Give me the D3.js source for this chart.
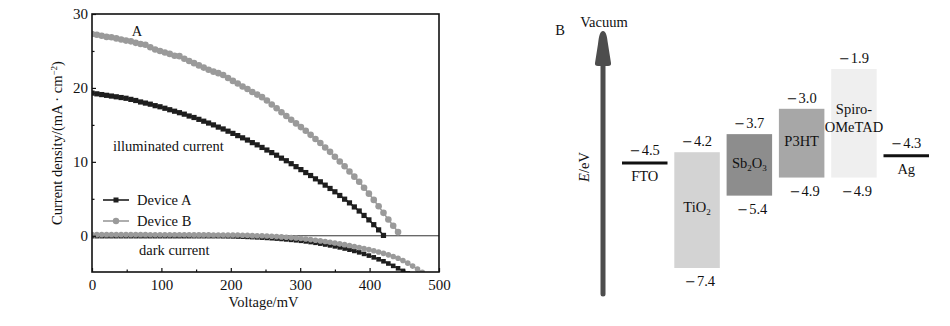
<!DOCTYPE html>
<html>
<head>
<meta charset="utf-8">
<script src="https://cdn.jsdelivr.net/npm/d3@7/dist/d3.min.js"></script>
<style>
  html, body { margin: 0; padding: 0; background: #fff; }
  svg { display: block; font-family: "Liberation Serif", "Times New Roman", serif; }
</style>
</head>
<body>
<svg id="chart" width="950" height="326"></svg>
<script>
// ---- Panel A: J–V curves ----
// Voltage sweep points (mV)
const voltage = [0,7,14,21,28,35,42,49,56,63,70,77,84,91,98,105,112,119,126,133,140,147,154,161,168,175,182,189,196,203,210,217,224,231,238,245,252,259,266,273,280,287,294,301,308,315,322,329,336,343,350,357,364,371,378,385,392,399,406,413,420,427,434,441,448,455,462,469,476];

// Current density (mA·cm⁻²) under illumination
const deviceALight = [19.3,19.2,19.1,19.0,18.9,18.8,18.7,18.6,18.45,18.3,18.1,17.95,17.8,17.6,17.45,17.25,17.05,16.85,16.65,16.45,16.2,16.0,15.75,15.5,15.25,15.0,14.7,14.45,14.15,13.85,13.55,13.25,12.95,12.6,12.3,11.95,11.6,11.25,10.9,10.5,10.15,9.75,9.35,8.95,8.55,8.15,7.7,7.3,6.85,6.4,5.95,5.45,4.95,4.45,3.9,3.35,2.75,2.15,1.5,0.8,0.05];
const deviceBLight = [27.3,27.2,27.05,26.9,26.85,26.7,26.55,26.4,26.3,26.1,25.95,25.85,25.5,25.2,25.0,24.8,24.6,24.35,24.3,23.95,23.65,23.35,23.05,22.75,22.45,22.2,22.0,21.75,21.35,20.95,20.6,20.2,19.85,19.45,19.1,18.75,18.3,17.75,17.25,16.7,16.2,15.7,15.2,14.7,14.2,13.65,13.1,12.55,11.95,11.35,10.7,10.05,9.4,8.7,8.0,7.3,6.5,5.7,4.85,4.0,3.1,2.2,1.35,0.5];

// Current density (mA·cm⁻²) in the dark
const deviceADark = [-0.05,-0.05,-0.05,-0.05,-0.05,-0.05,-0.05,-0.05,-0.05,-0.05,-0.05,-0.05,-0.05,-0.05,-0.05,-0.05,-0.05,-0.05,-0.05,-0.05,-0.05,-0.05,-0.05,-0.05,-0.05,-0.05,-0.05,-0.06,-0.07,-0.08,-0.1,-0.12,-0.15,-0.18,-0.21,-0.25,-0.29,-0.33,-0.38,-0.43,-0.49,-0.55,-0.61,-0.68,-0.76,-0.85,-0.95,-1.06,-1.18,-1.3,-1.43,-1.57,-1.72,-1.88,-2.05,-2.24,-2.45,-2.68,-2.92,-3.18,-3.45,-3.75,-4.07,-4.4,-4.75,-5.1];
const deviceBDark = [0.15,0.15,0.15,0.15,0.15,0.15,0.15,0.15,0.15,0.15,0.15,0.15,0.14,0.14,0.14,0.14,0.14,0.13,0.13,0.13,0.13,0.12,0.12,0.12,0.12,0.11,0.11,0.11,0.1,0.1,0.1,0.08,0.05,0.02,0.01,0.0,-0.03,-0.07,-0.11,-0.15,-0.2,-0.25,-0.31,-0.37,-0.44,-0.52,-0.6,-0.69,-0.78,-0.88,-0.98,-1.09,-1.2,-1.32,-1.45,-1.58,-1.72,-1.87,-2.03,-2.2,-2.38,-2.58,-2.8,-3.05,-3.35,-3.7,-4.1,-4.5,-4.95];

const xTicks = [0, 100, 200, 300, 400, 500];
const xMinorTicks = [50, 150, 250, 350, 450];
const yTicks = [0, 10, 20, 30];
const yMinorTicks = [5, 15, 25];

// ---- Panel B: energy levels (eV) ----
const materials = ["FTO", "TiO2", "Sb2O3", "P3HT", "Spiro-OMeTAD", "Ag"];
const upperLevel = [-4.5, -4.2, -3.7, -3.0, -1.9, -4.3];
const lowerLevel = [null, -7.4, -5.4, -4.9, -4.9, null];
const bandFill = [null, "#d3d3d3", "#8d8d8d", "#a7a7a7", "#efefef", null];

const svg = d3.select("#chart");
const FONT = 14.5;

// ================= Panel A =================
const plot = { left: 92, right: 439, top: 14, bottom: 272 };
const x = d3.scaleLinear().domain([0, 500]).range([plot.left, plot.right]);
const y = d3.scaleLinear().domain([-4.9, 30]).range([plot.bottom, plot.top]);

svg.append("defs").append("clipPath").attr("id", "plotClip")
  .append("rect")
  .attr("x", plot.left).attr("y", plot.top)
  .attr("width", plot.right - plot.left).attr("height", plot.bottom - plot.top);

// zero line
svg.append("line")
  .attr("x1", x(0)).attr("x2", x(500))
  .attr("y1", y(0)).attr("y2", y(0))
  .attr("stroke", "#333").attr("stroke-width", 1);

const gA = svg.append("g").attr("clip-path", "url(#plotClip)");

const line = d3.line().x(d => x(d[0])).y(d => y(d[1]));
const pairs = vals => vals.map((v, i) => [voltage[i], v]);

const series = [
  { vals: deviceADark,  color: "#1e1e1e", marker: "square", size: 4.6 },
  { vals: deviceBDark,  color: "#9a9a9a", marker: "circle", size: 2.8 },
  { vals: deviceALight, color: "#1e1e1e", marker: "square", size: 5.2 },
  { vals: deviceBLight, color: "#9a9a9a", marker: "circle", size: 3.3 }
];

series.forEach(s => {
  const pts = pairs(s.vals);
  gA.append("path").datum(pts)
    .attr("fill", "none").attr("stroke", s.color).attr("stroke-width", 1.5)
    .attr("d", line);
  if (s.marker === "square") {
    gA.append("g").selectAll("rect").data(pts).join("rect")
      .attr("x", d => x(d[0]) - s.size / 2).attr("y", d => y(d[1]) - s.size / 2)
      .attr("width", s.size).attr("height", s.size)
      .attr("fill", s.color);
  } else {
    gA.append("g").selectAll("circle").data(pts).join("circle")
      .attr("cx", d => x(d[0])).attr("cy", d => y(d[1]))
      .attr("r", s.size).attr("fill", s.color);
  }
});

// axes (ticks pointing inward)
const xAxis = svg.append("g").attr("transform", `translate(0,${plot.bottom})`)
  .call(d3.axisBottom(x).tickValues(xTicks).tickSizeInner(-4).tickSizeOuter(0).tickPadding(5));
svg.append("g").attr("transform", `translate(0,${plot.bottom})`)
  .call(d3.axisBottom(x).tickValues(xMinorTicks).tickSizeInner(-2.5).tickSizeOuter(0).tickFormat(""));
const yAxis = svg.append("g").attr("transform", `translate(${plot.left},0)`)
  .call(d3.axisLeft(y).tickValues(yTicks).tickSizeInner(-4).tickSizeOuter(0).tickPadding(4));
svg.append("g").attr("transform", `translate(${plot.left},0)`)
  .call(d3.axisLeft(y).tickValues(yMinorTicks).tickSizeInner(-2.5).tickSizeOuter(0).tickFormat(""));

svg.selectAll(".domain").remove();
svg.selectAll(".tick line").attr("stroke", "#111").attr("stroke-width", 1.2);
svg.selectAll(".tick text")
  .attr("font-family", "Liberation Serif").attr("font-size", 15).attr("fill", "#111");
xAxis.selectAll(".tick text").attr("dy", "0.85em");

// frame
svg.append("rect")
  .attr("x", plot.left).attr("y", plot.top)
  .attr("width", plot.right - plot.left).attr("height", plot.bottom - plot.top)
  .attr("fill", "none").attr("stroke", "#111").attr("stroke-width", 1.6);

// axis titles
svg.append("text")
  .attr("x", (plot.left + plot.right) / 2 - 2).attr("y", 307)
  .attr("text-anchor", "middle").attr("font-size", FONT).attr("fill", "#111")
  .text("Voltage/mV");

const yTitle = svg.append("text")
  .attr("transform", `translate(62,${(plot.top + plot.bottom) / 2}) rotate(-90)`)
  .attr("text-anchor", "middle").attr("font-size", FONT).attr("fill", "#111");
yTitle.append("tspan").text("Current density/(mA · cm");
yTitle.append("tspan").attr("font-size", 9).attr("dy", -5).text("−2");
yTitle.append("tspan").attr("dy", 5).text(")");

// annotations
svg.append("text").attr("x", 137).attr("y", 36).attr("text-anchor", "middle")
  .attr("font-size", FONT).attr("fill", "#111").text("A");
svg.append("text").attr("x", 113).attr("y", 151)
  .attr("font-size", FONT).attr("fill", "#111").text("illuminated current");
svg.append("text").attr("x", 139).attr("y", 255)
  .attr("font-size", FONT).attr("fill", "#111").text("dark current");

// legend
const legend = [
  { label: "Device A", color: "#1e1e1e", marker: "square", yPos: 200 },
  { label: "Device B", color: "#9a9a9a", marker: "circle", yPos: 221 }
];
legend.forEach(l => {
  svg.append("line").attr("x1", 103).attr("x2", 129).attr("y1", l.yPos).attr("y2", l.yPos)
    .attr("stroke", l.color).attr("stroke-width", 1.6);
  if (l.marker === "square") {
    svg.append("rect").attr("x", 116 - 2.5).attr("y", l.yPos - 2.5)
      .attr("width", 5).attr("height", 5).attr("fill", l.color);
  } else {
    svg.append("circle").attr("cx", 116).attr("cy", l.yPos).attr("r", 3.2).attr("fill", l.color);
  }
  svg.append("text").attr("x", 137).attr("y", l.yPos + 5)
    .attr("font-size", FONT).attr("fill", "#111").text(l.label);
});

// ================= Panel B =================
const e = d3.scaleLinear().domain([-1.9, -7.4]).range([69, 268]);
const band = d3.scaleBand().domain(materials).range([622, 929]).paddingInner(0.13).paddingOuter(0);

svg.append("text").attr("x", 560).attr("y", 35).attr("text-anchor", "middle")
  .attr("font-size", FONT).attr("fill", "#111").text("B");

// vacuum arrow
const ax = 603;
svg.append("line").attr("x1", ax).attr("x2", ax).attr("y1", 294).attr("y2", 60)
  .attr("stroke", "#4d4d4d").attr("stroke-width", 5).attr("stroke-linecap", "round");
svg.append("path")
  .attr("d", `M${ax},31 C${ax + 3},31 ${ax + 4},36 ${ax + 5},44 L${ax + 8},63 Q${ax + 8.5},66 ${ax + 5},66 L${ax - 5},66 Q${ax - 8.5},66 ${ax - 8},63 L${ax - 5},44 C${ax - 4},36 ${ax - 3},31 ${ax},31 Z`)
  .attr("fill", "#4d4d4d");
svg.append("text").attr("x", 604).attr("y", 27).attr("text-anchor", "middle")
  .attr("font-size", FONT).attr("fill", "#111").text("Vacuum");

const eTitle = svg.append("text")
  .attr("transform", `translate(589,167) rotate(-90)`)
  .attr("text-anchor", "middle").attr("font-size", FONT).attr("fill", "#111");
eTitle.append("tspan").attr("font-style", "italic").text("E");
eTitle.append("tspan").text("/eV");

// energy label: wide minus sign followed by the magnitude
function levelLabel(cx, yPos, v) {
  const t = svg.append("text").attr("x", cx).attr("y", yPos).attr("text-anchor", "middle")
    .attr("font-size", FONT).attr("fill", "#111");
  t.append("tspan").attr("font-family", "DejaVu Serif").attr("font-size", 13).text("−");
  t.append("tspan").attr("dx", 1).text(Math.abs(v).toFixed(1));
}

materials.forEach((m, i) => {
  const bx = band(m), bw = band.bandwidth(), cx = bx + bw / 2;
  const top = e(upperLevel[i]);
  if (lowerLevel[i] === null) {
    // metal / contact: a single work-function line
    svg.append("line").attr("x1", bx).attr("x2", bx + bw).attr("y1", top).attr("y2", top)
      .attr("stroke", "#111").attr("stroke-width", 3);
    levelLabel(cx, top - 8, upperLevel[i]);
    svg.append("text").attr("x", cx).attr("y", top + 18).attr("text-anchor", "middle")
      .attr("font-size", FONT).attr("fill", "#111").text(m);
  } else {
    const bottom = e(lowerLevel[i]);
    svg.append("rect").attr("x", bx).attr("y", top).attr("width", bw).attr("height", bottom - top)
      .attr("fill", bandFill[i]);
    levelLabel(cx, top - 6, upperLevel[i]);
    levelLabel(cx + 3, bottom + 18, lowerLevel[i]);

    const mid = (top + bottom) / 2;
    const t = svg.append("text").attr("x", cx).attr("text-anchor", "middle")
      .attr("font-size", FONT).attr("fill", "#111");
    if (m === "TiO2") {
      t.attr("y", mid + 2);
      t.append("tspan").text("TiO");
      t.append("tspan").attr("font-size", 9).attr("dy", 3).text("2");
    } else if (m === "Sb2O3") {
      t.attr("y", mid + 3);
      t.append("tspan").text("Sb");
      t.append("tspan").attr("font-size", 9).attr("dy", 3).text("2");
      t.append("tspan").attr("dy", -3).text("O");
      t.append("tspan").attr("font-size", 9).attr("dy", 3).text("3");
    } else if (m === "Spiro-OMeTAD") {
      t.attr("y", 114);
      t.append("tspan").attr("x", cx).text("Spiro-");
      t.append("tspan").attr("x", cx).attr("dy", 18).text("OMeTAD");
    } else {
      t.attr("y", mid + 3).text(m);
    }
  }
});
</script>
</body>
</html>
